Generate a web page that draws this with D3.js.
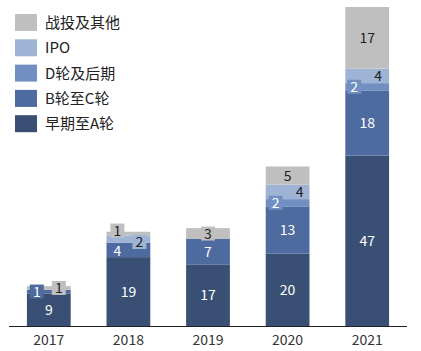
<!DOCTYPE html>
<html>
<head>
<meta charset="utf-8">
<style>
  body { margin: 0; background: #fff; }
  svg { display: block; font-family: "Microsoft YaHei", "Noto Sans CJK SC", sans-serif; }
</style>
</head>
<body>
<script src="https://d3js.org/d3.v7.min.js"></script>
<script>
  // data
  const years = ['2017', '2018', '2019', '2020', '2021'];
  const seriesNames = ['早期至A轮', 'B轮至C轮', 'D轮及后期', 'IPO', '战投及其他'];
  const early = [9, 19, 17, 20, 47];
  const bToC = [1, 4, 7, 13, 18];
  const dLater = [0, 0, 0, 2, 2];
  const ipo = [0, 2, 0, 4, 4];
  const other = [1, 1, 3, 5, 17];

  const colors = ['#3a4f74', '#4d6b9e', '#7190c1', '#9fb3d5', '#bfbfbf'];
  const textColors = ['#fff', '#fff', '#fff', '#222', '#222'];

  // labels of thin segments are pushed aside, some with a small box behind them
  const labelTweaks = {
    '1-2017': { dx: -12, box: true },
    '4-2017': { dx: 10, box: true },
    '1-2018': { dx: -11, dy: 1.5 },
    '3-2018': { dx: 11, dy: 3, box: true },
    '4-2018': { dx: -11, dy: -3, box: true },
    '4-2019': { box: true },
    '2-2020': { dx: -12, box: true },
    '3-2020': { dx: 12 },
    '2-2021': { dx: -13, box: true },
    '3-2021': { dx: 11 }
  };

  const W = 421, H = 351;
  const svg = d3.select('body').append('svg').attr('width', W).attr('height', H);

  const table = years.map((y, i) => ({
    year: y,
    s0: early[i], s1: bToC[i], s2: dLater[i], s3: ipo[i], s4: other[i]
  }));
  const keys = ['s0', 's1', 's2', 's3', 's4'];
  const series = d3.stack().keys(keys)(table);

  const x = d3.scaleBand().domain(years).range([9, 407]).paddingInner(0.45).paddingOuter(0.225);
  const y = d3.scaleLinear().domain([0, 88]).range([326, 7]);

  // bars
  svg.append('g').selectAll('g')
    .data(series)
    .join('g')
    .attr('fill', (d, i) => colors[i])
    .selectAll('rect')
    .data(d => d)
    .join('rect')
    .attr('x', d => x(d.data.year))
    .attr('y', d => y(d[1]))
    .attr('width', x.bandwidth())
    .attr('height', d => y(d[0]) - y(d[1]));

  // value labels
  const labels = [];
  series.forEach((s, si) => {
    s.forEach(d => {
      const v = d[1] - d[0];
      if (v <= 0) return;
      const t = labelTweaks[si + '-' + d.data.year] || {};
      labels.push({
        si, v,
        cx: x(d.data.year) + x.bandwidth() / 2 + (t.dx || 0),
        cy: (y(d[0]) + y(d[1])) / 2 + (t.dy || 0),
        box: !!t.box
      });
    });
  });

  const lg = svg.append('g').selectAll('g').data(labels).join('g');
  lg.filter(d => d.box).append('rect')
    .attr('x', d => d.cx - (String(d.v).length * 4 + 3))
    .attr('y', d => d.cy - 7)
    .attr('width', d => String(d.v).length * 8 + 6)
    .attr('height', 14)
    .attr('fill', d => colors[d.si]);
  lg.append('text')
    .attr('x', d => d.cx)
    .attr('y', d => d.cy)
    .attr('dy', '0.36em')
    .attr('text-anchor', 'middle')
    .attr('font-size', 14)
    .attr('fill', d => textColors[d.si])
    .text(d => d.v);

  // x axis
  const axis = svg.append('g').attr('transform', 'translate(0,326.5)');
  axis.call(d3.axisBottom(x).tickSize(0).tickPadding(9).tickSizeOuter(0));
  axis.select('.domain').attr('stroke', '#222').attr('d', 'M9,0H407');
  axis.selectAll('text').attr('font-size', 14).attr('fill', '#333')
    .attr('font-family', '"Microsoft YaHei", "Noto Sans CJK SC", sans-serif');

  // legend, top row is the top series
  const legendOrder = [4, 3, 2, 1, 0];
  const leg = svg.append('g').selectAll('g')
    .data(legendOrder)
    .join('g')
    .attr('transform', (d, i) => `translate(15,${14 + i * 25.3})`);
  leg.append('rect').attr('width', 22).attr('height', 17).attr('fill', d => colors[d]);
  leg.append('text')
    .attr('x', 30).attr('y', 8.5).attr('dy', '0.36em')
    .attr('font-size', 15).attr('fill', '#222')
    .text(d => seriesNames[d]);
</script>
</body>
</html>
